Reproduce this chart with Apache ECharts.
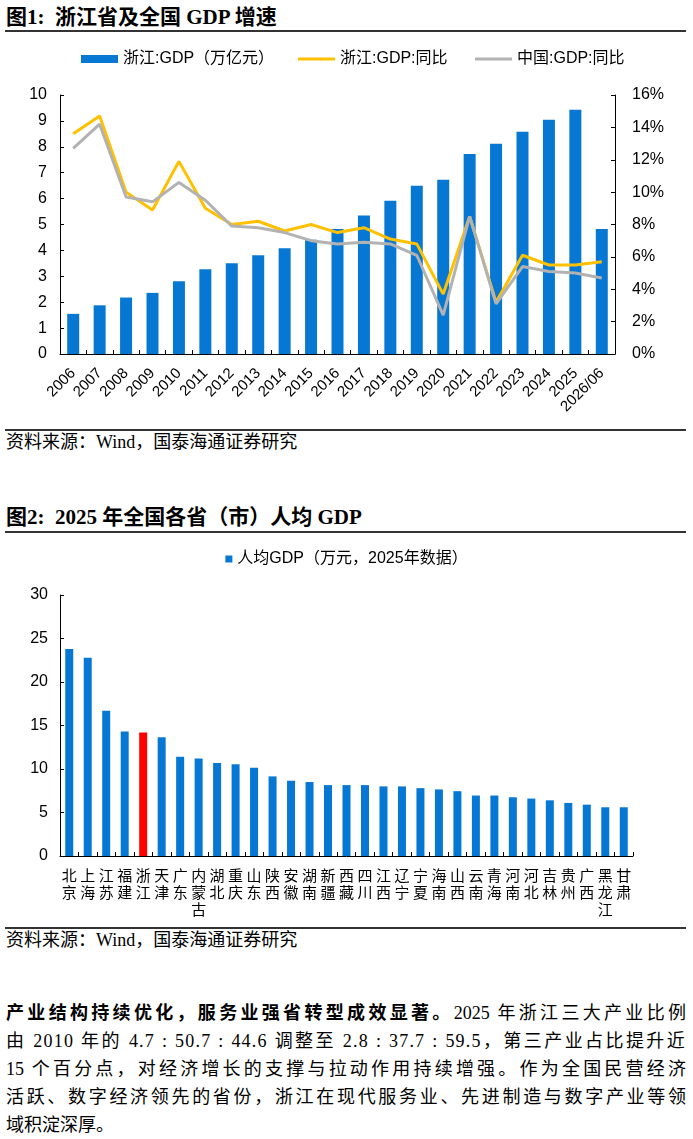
<!DOCTYPE html>
<html><head><meta charset="utf-8">
<script src="https://cdn.jsdelivr.net/npm/echarts@6/dist/echarts.min.js"></script>
<style>
body{margin:0;width:693px;height:1139px;background:#fff;position:relative;overflow:hidden;font-family:'Liberation Serif','Noto Sans CJK SC',serif;color:#000}
.abs{position:absolute}
.title{left:6px;font-size:21px;font-weight:bold;line-height:28px;white-space:nowrap}
.rule{left:5px;width:681px;height:2px;background:#333}
.src{left:6px;font-size:18px;line-height:24px;white-space:nowrap}
.p{left:6px;width:680px;font-size:18px;line-height:28px;height:28px;text-align:justify;text-align-last:justify}
.p.last{text-align-last:left}
</style></head>
<body>
<div class="abs title" style="top:3px">图1:&nbsp;&nbsp;浙江省及全国 GDP 增速</div>
<div class="abs rule" style="top:30px"></div>
<div id="c1" class="abs" style="left:0;top:40px;width:693px;height:385px"></div>
<div class="abs rule" style="top:429px"></div>
<div class="abs src" style="top:430px">资料来源：Wind，国泰海通证券研究</div>

<div class="abs title" style="top:503px">图2:&nbsp;&nbsp;2025 年全国各省（市）人均 GDP</div>
<div class="abs rule" style="top:531px"></div>
<div id="c2" class="abs" style="left:0;top:540px;width:693px;height:385px"></div>
<div class="abs rule" style="top:927px"></div>
<div class="abs src" style="top:928px">资料来源：Wind，国泰海通证券研究</div>

<div class="abs p" style="top:999px"><b>产业结构持续优化，服务业强省转型成效显著。</b>2025 年浙江三大产业比例</div>
<div class="abs p" style="top:1027px;letter-spacing:1.2px">由 2010 年的 4.7 : 50.7 : 44.6 调整至 2.8 : 37.7 : 59.5，第三产业占比提升近</div>
<div class="abs p" style="top:1055px">15 个百分点，对经济增长的支撑与拉动作用持续增强。作为全国民营经济</div>
<div class="abs p" style="top:1083px">活跃、数字经济领先的省份，浙江在现代服务业、先进制造与数字产业等领</div>
<div class="abs p last" style="top:1111px">域积淀深厚。</div>

<script>
// ---- Chart 1 data ----
const years = ['2006','2007','2008','2009','2010','2011','2012','2013','2014','2015','2016','2017','2018','2019','2020','2021','2022','2023','2024','2025','2026/06'];
const zjGdp = [1.55,1.88,2.18,2.36,2.81,3.27,3.50,3.81,4.08,4.41,4.83,5.35,5.92,6.50,6.73,7.72,8.12,8.58,9.04,9.43,4.83];
const zjYoy = [13.6,14.7,10.0,8.9,11.9,9.0,8.0,8.2,7.6,8.0,7.5,7.8,7.1,6.8,3.7,8.5,3.2,6.1,5.5,5.5,5.7];
const cnYoy = [12.7,14.2,9.7,9.4,10.6,9.5,7.9,7.8,7.5,7.0,6.8,6.9,6.8,6.1,2.4,8.5,3.1,5.4,5.1,5.0,4.7];
const leftTicks = {min:0, max:10, interval:1};
const rightTicks = {min:0, max:16, interval:2};
const names1 = ['浙江:GDP（万亿元）','浙江:GDP:同比','中国:GDP:同比'];

// ---- Chart 2 data ----
const provinces = ['北京','上海','江苏','福建','浙江','天津','广东','内蒙古','湖北','重庆','山东','陕西','安徽','湖南','新疆','西藏','四川','江西','辽宁','宁夏','海南','山西','云南','青海','河南','河北','吉林','贵州','广西','黑龙江','甘肃'];
const perCapita = [23.8,22.8,16.7,14.3,14.2,13.65,11.4,11.2,10.7,10.55,10.15,9.15,8.65,8.5,8.15,8.15,8.15,8.0,8.0,7.8,7.65,7.45,6.95,6.95,6.75,6.6,6.4,6.1,5.9,5.6,5.6];
const highlight = '浙江';
const name2 = '人均GDP（万元，2025年数据）';
const yTicks2 = {min:0, max:30, interval:5};

const BLUE = '#0777D4', YEL = '#FFC000', GRAY = '#B2B2B2', RED = '#FF0000';
const SANS = "'Liberation Sans', Arial, 'Noto Sans CJK SC', sans-serif";
const CJK = "'Noto Sans CJK SC', sans-serif";
const axisLine = {show:true, lineStyle:{color:'#000', width:1}};
const tick = {show:true, inside:true, length:4, lineStyle:{color:'#000'}};
const legendText = {fontSize:16, color:'#000', fontFamily:"'Liberation Sans', Arial, 'Noto Sans CJK SC', sans-serif"};

const c1 = echarts.init(document.getElementById('c1'), null, {renderer:'canvas'});
c1.setOption({
  animation:false,
  grid:{left:60, top:55, width:555, height:259, outerBoundsMode:'none'},
  legend:[
    {data:[{name:names1[0], icon:'rect'}], left:76, top:6, itemWidth:37, itemHeight:8, itemGap:5, selectedMode:false, textStyle:legendText},
    {data:[{name:names1[1], icon:'rect'}], left:293, top:6, itemWidth:37, itemHeight:3, selectedMode:false, textStyle:legendText},
    {data:[{name:names1[2], icon:'rect'}], left:470, top:6, itemWidth:37, itemHeight:3, selectedMode:false, textStyle:legendText}
  ],
  xAxis:{type:'category', data:years, axisLine:axisLine, axisTick:tick,
    axisLabel:{rotate:45, interval:0, fontSize:15, color:'#000', fontFamily:SANS, margin:17}},
  yAxis:[
    {type:'value', min:leftTicks.min, max:leftTicks.max, interval:leftTicks.interval, axisLine:axisLine, axisTick:tick, splitLine:{show:false},
      axisLabel:{fontSize:16, color:'#000', fontFamily:SANS, margin:13}},
    {type:'value', position:'right', min:rightTicks.min, max:rightTicks.max, interval:rightTicks.interval, axisLine:axisLine, axisTick:tick, splitLine:{show:false},
      axisLabel:{fontSize:16, color:'#000', fontFamily:SANS, margin:17, formatter:'{value}%'}}
  ],
  series:[
    {name:names1[0], type:'bar', data:zjGdp, barWidth:12, itemStyle:{color:BLUE}, yAxisIndex:0},
    {name:names1[1], type:'line', data:zjYoy, yAxisIndex:1, symbol:'none', lineStyle:{color:YEL, width:3}, itemStyle:{color:YEL}},
    {name:names1[2], type:'line', data:cnYoy, yAxisIndex:1, symbol:'none', lineStyle:{color:GRAY, width:3}, itemStyle:{color:GRAY}}
  ]
});

const c2 = echarts.init(document.getElementById('c2'), null, {renderer:'canvas'});
c2.setOption({
  animation:false,
  grid:{left:60, top:55, width:573, height:261, outerBoundsMode:'none'},
  legend:{data:[{name:name2, icon:'rect'}], left:'center', top:6, itemWidth:7, itemHeight:7, itemGap:5, selectedMode:false, textStyle:legendText},
  xAxis:{type:'category', data:provinces, axisLine:axisLine, axisTick:tick,
    axisLabel:{interval:0, fontSize:15, lineHeight:17, color:'#000', fontFamily:CJK, margin:11,
      formatter:function(v){return v.split('').join('\n');}}},
  yAxis:{type:'value', min:yTicks2.min, max:yTicks2.max, interval:yTicks2.interval, axisLine:axisLine, axisTick:tick, splitLine:{show:false},
    axisLabel:{fontSize:16, color:'#000', fontFamily:SANS, margin:12}},
  series:[{name:name2, type:'bar', barWidth:8, itemStyle:{color:BLUE},
    data:perCapita.map(function(v,i){return provinces[i]===highlight ? {value:v, itemStyle:{color:RED}} : v;})}]
});
</script>
</body></html>
